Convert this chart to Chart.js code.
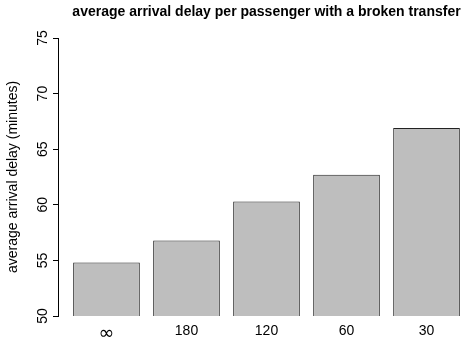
<!DOCTYPE html>
<html>
<head>
<meta charset="utf-8">
<script src="https://cdn.jsdelivr.net/npm/chart.js@4/dist/chart.umd.min.js"></script>
<style>
  html, body { margin: 0; padding: 0; overflow: hidden; background: #fff; }
  #wrap { width: 465px; height: 338px; overflow: hidden; }
  canvas { display: block; }
</style>
</head>
<body>
<div id="wrap"><canvas id="c" width="476" height="338"></canvas></div>
<script>
// Maximum transfer time setting (minutes) for each scenario
const categories = ['\u221E', '180', '120', '60', '30'];
// Average arrival delay per passenger with a broken transfer (minutes)
const avgDelay = [54.8, 56.8, 60.3, 62.7, 66.9];
// Value axis tick labels
const yTicks = [50, 55, 60, 65, 70, 75];

const SANS = "'Liberation Sans', Arial, Helvetica, sans-serif";
Chart.defaults.font.family = SANS;
Chart.defaults.font.size = 14;
Chart.defaults.color = '#000';

new Chart(document.getElementById('c'), {
  type: 'bar',
  data: {
    datasets: [{
      data: avgDelay.map((v, i) => ({ x: i, y: v })),
      backgroundColor: '#bebebe',
      borderColor: '#222',
      borderWidth: 1,
      borderSkipped: 'start',
      barPercentage: 1 / 1.2,
      categoryPercentage: 1
    }]
  },
  options: {
    responsive: false,
    animation: false,
    events: [],
    layout: { padding: { top: 0, right: 1, bottom: 0, left: 0 } },
    plugins: {
      legend: { display: false },
      tooltip: { enabled: false },
      title: {
        display: true,
        fullSize: false,
        text: 'average arrival delay per passenger with a broken transfer',
        font: { size: 14, weight: 'bold' },
        color: '#000',
        padding: { top: 4.1, bottom: 17.1 }
      }
    },
    scales: {
      x: {
        type: 'linear',
        offset: false,
        min: -0.606,
        max: 4.606,
        afterBuildTicks: s => { s.ticks = categories.map((_, i) => ({ value: i })); },
        afterFit: s => { s.height = 22; },
        ticks: {
          autoSkip: false,
          maxRotation: 0,
          padding: 6.4,
          // the infinity sign is set as a wider math symbol
          font: ctx => (ctx.tick && categories[ctx.tick.value] === '\u221E')
            ? { family: "'DejaVu Sans', sans-serif", size: 19 }
            : { family: SANS, size: 14 },
          callback: v => categories[v]
        },
        grid: { display: false, drawTicks: false, tickLength: 0 },
        border: { display: false }
      },
      y: {
        min: 50,
        max: 75,
        afterBuildTicks: s => { s.ticks = yTicks.map(v => ({ value: v })); },
        afterFit: s => { s.width = 58; },
        ticks: {
          minRotation: 90,
          maxRotation: 90,
          crossAlign: 'center',
          padding: 2.5
        },
        grid: {
          drawOnChartArea: false,
          drawTicks: true,
          tickLength: 5,
          color: '#000',
          lineWidth: 1
        },
        border: { display: true, color: '#000', width: 1 },
        title: {
          display: true,
          text: 'average arrival delay (minutes)',
          color: '#000',
          padding: { top: 4.6, bottom: 0 }
        }
      }
    }
  }
});
</script>
</body>
</html>
